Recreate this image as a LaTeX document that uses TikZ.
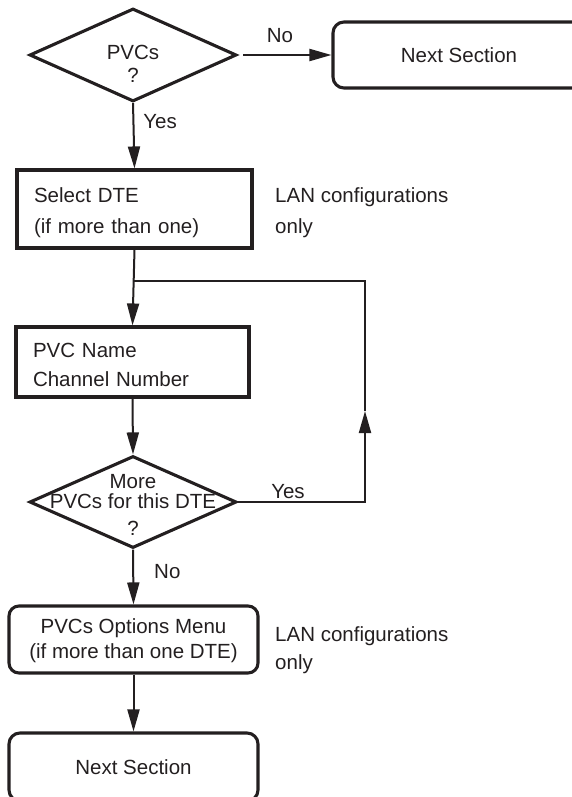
\documentclass[tikz,border=0pt]{standalone}
\usepackage{fontspec}
\setmainfont{Liberation Sans}
\usetikzlibrary{shapes.geometric,arrows.meta}
\definecolor{ink}{HTML}{231F20}
\begin{document}
\begin{tikzpicture}[x=1pt,y=-1pt,
  every node/.style={font=\fontsize{20.5}{24}\selectfont, text=ink, inner sep=0pt},
  dia/.style={draw=ink, line width=3.1pt, diamond, minimum width=207pt, minimum height=93pt, inner sep=0pt},
  boxsq/.style={draw=ink, line width=3.1pt, rectangle, inner sep=0pt},
  boxrd/.style={boxsq, rounded corners=11pt},
  conn/.style={draw=ink, line width=2pt},
  arr/.style={conn, -{Triangle[length=22pt,width=12pt]}}]
\useasboundingbox (0,0) rectangle (571,797);
% decision 1
\node[dia] (d1) at (133,55) {};
\node[anchor=north, align=center, font=\fontsize{20.5}{23}\selectfont] (t1) at (133,45) {PVCs\\?};
\node[boxrd, minimum width=252pt, minimum height=66pt] (ns1) at (459,55) {Next Section};
\draw[arr, shorten <=5pt] (d1.east) -- (ns1.west);
\node (lno1) at (280,36) {No};
% select DTE
\node[boxsq, minimum width=235pt, minimum height=78pt, text width=201pt, align=left,
      font=\fontsize{20.5}{31}\selectfont] (s1) at (134.5,209) {\rule{0pt}{23pt}Select DTE\\(if more than one)};
\node[anchor=west, align=left, font=\fontsize{20.5}{31}\selectfont] (lan1) at (275,213) {LAN configurations\\only};
\draw[arr] (d1.south) -- (s1.north) node[pos=0.28, right=9pt] (lyes1) {Yes};
% PVC name
\node[boxsq, minimum width=233pt, minimum height=70pt, text width=199pt, align=left,
      font=\fontsize{20.5}{29}\selectfont] (p1) at (132.5,362) {\rule{0pt}{20pt}PVC Name\\Channel Number};
\draw[arr] (s1.south) -- (p1.north);
% decision 2
\node[dia, minimum height=92pt] (d2) at (133,502) {};
\node[anchor=north, align=center, font=\fontsize{20.5}{20}\selectfont] (t2) at (133,474) {More\\PVCs for this DTE\\[7pt]?};
\draw[arr] (p1.south) -- (d2.north);
% loop back
\coordinate (j) at (133.5,281);
\coordinate (r1) at (365,281);
\coordinate (r2) at (365,502);
\coordinate (rm) at (365,411);
\draw[arr] (d2.east) -- (r2) -- (rm);
\draw[conn, line width=1.7pt] (rm) -- (r1) -- (j);
\node (lyes2) at (288,492) {Yes};
% options menu
\node[boxrd, minimum width=249pt, minimum height=67pt, align=center, rounded corners=10pt,
      font=\fontsize{20.5}{25}\selectfont] (o1) at (133.5,639.5) {\rule{0pt}{18pt}PVCs Options Menu\\(if more than one DTE)};
\node[anchor=west, align=left, font=\fontsize{20.5}{28}\selectfont] (lan2) at (275,650) {LAN configurations\\only};
\draw[arr] (d2.south) -- (o1.north) node[pos=0.4, right=20pt] (lno2) {No};
% final
\node[boxrd, minimum width=249pt, minimum height=68pt] (ns2) at (133.5,767) {Next Section};
\draw[arr] (o1.south) -- (ns2.north);
\end{tikzpicture}
\end{document}
